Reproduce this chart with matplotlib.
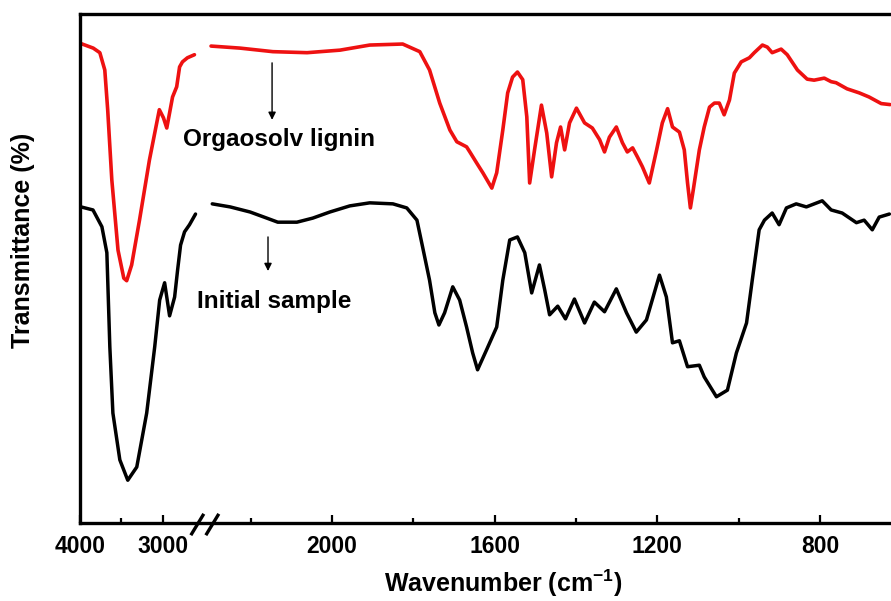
import numpy as np
import matplotlib
matplotlib.use('Agg')
import matplotlib.pyplot as plt
from matplotlib.ticker import FixedLocator

plt.rcParams['font.family'] = ['Liberation Sans', 'DejaVu Sans']
plt.rcParams['font.weight'] = 'bold'
plt.rcParams['mathtext.fontset'] = 'custom'
plt.rcParams['mathtext.rm'] = 'Liberation Sans'
plt.rcParams['mathtext.bf'] = 'Liberation Sans:bold'

# axis break (cm-1)
break_hi = 2550
break_lo = 2300

# Orgaosolv lignin (red) - high wavenumber part
lig_wn_a = [3990, 3840, 3760, 3700, 3665, 3615, 3540, 3470, 3435, 3375, 3280,
            3160, 3040, 2990, 2950, 2880, 2830, 2795, 2760, 2700, 2615]
lig_t_a = [94.2, 93.3, 92.4, 89.0, 81.2, 67.4, 53.6, 48.1, 47.6, 50.7, 59.5,
           71.3, 81.2, 79.6, 77.6, 83.7, 85.7, 89.6, 90.6, 91.4, 92.0]

# Orgaosolv lignin (red) - 2300..626
lig_wn_b = [2297, 2226, 2145, 2061, 1980, 1907, 1826, 1784, 1760, 1735, 1710,
            1693, 1669, 1661, 1644, 1629, 1607, 1595, 1580, 1568, 1556, 1544,
            1531, 1521, 1514, 1502, 1485, 1472, 1460, 1448, 1438, 1428, 1416,
            1399, 1379, 1360, 1342, 1330, 1318, 1301, 1286, 1274, 1261, 1249,
            1237, 1220, 1202, 1188, 1175, 1163, 1146, 1134, 1126, 1119, 1112,
            1097, 1085, 1072, 1060, 1048, 1036, 1023, 1011, 994, 974, 962,
            942, 930, 918, 896, 881, 856, 832, 815, 790, 773, 761, 734, 704,
            680, 650, 628]
lig_t_b = [93.7, 93.3, 92.6, 92.4, 92.9, 93.9, 94.1, 92.6, 89.0, 82.5, 77.2,
           74.9, 73.9, 72.9, 70.7, 68.8, 65.8, 68.8, 77.2, 84.5, 87.6, 88.6,
           87.1, 79.8, 66.8, 73.3, 82.1, 76.6, 68.0, 74.7, 77.8, 73.3, 78.6,
           81.5, 78.6, 77.6, 75.3, 72.9, 75.8, 77.8, 74.7, 72.9, 73.7, 71.9,
           70.0, 66.8, 73.3, 78.6, 81.4, 77.8, 76.8, 73.3, 66.8, 61.9, 65.4,
           73.3, 77.8, 81.7, 82.5, 82.5, 80.2, 83.1, 88.4, 90.6, 91.4, 92.4,
           93.9, 93.5, 92.4, 93.1, 92.0, 89.0, 87.2, 87.0, 87.4, 86.7, 86.5,
           85.3, 84.5, 83.7, 82.4, 82.2]

# Initial sample (black) - high wavenumber part
ini_wn_a = [3988, 3843, 3735, 3675, 3639, 3602, 3518, 3422, 3313, 3193, 3096,
            3036, 2976, 2916, 2855, 2819, 2783, 2735, 2675, 2602]
ini_t_a = [62.1, 61.5, 58.2, 53.1, 34.6, 21.6, 12.4, 8.4, 11.0, 21.6, 34.6,
           43.8, 47.2, 40.7, 44.4, 49.7, 54.6, 57.2, 58.6, 60.7]

# Initial sample (black) - 2300..626
ini_wn_b = [2294, 2250, 2201, 2160, 2133, 2086, 2047, 2005, 1956, 1907, 1850,
            1816, 1791, 1777, 1760, 1747, 1737, 1723, 1703, 1686, 1669, 1654,
            1642, 1620, 1595, 1580, 1563, 1544, 1526, 1509, 1490, 1477, 1465,
            1445, 1426, 1404, 1379, 1355, 1330, 1301, 1276, 1252, 1227, 1195,
            1178, 1163, 1146, 1126, 1097, 1085, 1055, 1028, 1006, 981, 967,
            950, 937, 918, 901, 883, 859, 834, 795, 773, 746, 711, 692, 672,
            655, 630]
ini_t_b = [62.7, 62.1, 61.1, 59.9, 59.1, 59.1, 59.9, 61.1, 62.3, 62.9, 62.7,
           61.9, 59.5, 54.2, 47.7, 41.3, 38.9, 41.3, 46.4, 43.8, 38.5, 33.4,
           30.1, 34.0, 38.5, 47.7, 55.6, 56.2, 53.1, 45.2, 50.7, 45.8, 40.9,
           42.6, 40.1, 44.0, 39.3, 43.4, 41.5, 46.0, 41.3, 37.5, 39.9, 48.7,
           44.4, 35.4, 35.8, 30.7, 31.0, 28.7, 24.8, 26.1, 33.4, 39.3, 47.7,
           57.6, 59.5, 60.9, 58.6, 61.9, 62.7, 62.1, 63.3, 61.5, 60.9, 59.0,
           59.5, 57.6, 60.1, 60.7]

major_ticks = [4000, 3000, 2000, 1600, 1200, 800]
minor_ticks = [3500, 2200, 1800, 1400, 1000]

# piecewise linear scale: 4000-2550 compressed, 2300-626 stretched
scale_wn = [0, break_lo, break_hi, 4000, 5000]
scale_pos = [-1067.25, -130, -120, 0, 82.8]


def fwd(x):
    return np.interp(np.asarray(x, dtype=float), scale_wn, scale_pos)


def inv(p):
    return np.interp(np.asarray(p, dtype=float), scale_pos, scale_wn)


fig = plt.figure(figsize=(8.91, 6.01), dpi=100)
ax = fig.add_axes([80 / 891, 1 - 523 / 601, 811 / 891, 509 / 601])
ax.set_xscale('function', functions=(fwd, inv))

red = '#ee1111'
line_kw = dict(solid_joinstyle='round', solid_capstyle='round')
ax.plot(lig_wn_a, lig_t_a, color=red, lw=2.6, **line_kw)
ax.plot(lig_wn_b, lig_t_b, color=red, lw=2.6, **line_kw)
ax.plot(ini_wn_a, ini_t_a, color='black', lw=2.5, **line_kw)
ax.plot(ini_wn_b, ini_t_b, color='black', lw=2.5, **line_kw)

ax.set_xlim(4000, 626)
ax.set_ylim(0, 100)

ax.xaxis.set_major_locator(FixedLocator(major_ticks))
ax.xaxis.set_minor_locator(FixedLocator(minor_ticks))
ax.set_yticks([])
ax.tick_params(axis='x', which='major', direction='in', length=6, width=1.6,
               labelsize=16.5, pad=8.5)
ax.tick_params(axis='x', which='minor', direction='in', length=3.5, width=1.6)
for lab in ax.get_xticklabels():
    lab.set_fontweight('bold')

for side in ['left', 'top', 'bottom']:
    ax.spines[side].set_linewidth(2.4)
ax.spines['right'].set_visible(False)

# break marks on the bottom axis
mid = ax.transAxes.inverted().transform(
    ax.transData.transform(((break_hi + break_lo) / 2, 0)))[0]
for dx in (-7.5 / 811, 7.5 / 811):
    ax.plot([mid + dx - 0.008, mid + dx + 0.008], [-0.024, 0.018],
            transform=ax.transAxes, color='black', lw=2.4, clip_on=False,
            solid_capstyle='butt')

# labels and arrows
ax.text(0.127, 0.741, 'Orgaosolv lignin', transform=ax.transAxes,
        fontsize=17.5, fontweight='bold', va='baseline')
ax.text(0.144, 0.422, 'Initial sample', transform=ax.transAxes,
        fontsize=17.5, fontweight='bold', va='baseline')
arrow = dict(arrowstyle='-|>', color='black', lw=1, mutation_scale=11,
             shrinkA=0, shrinkB=0)
ax.annotate('', xy=(2147, 79.2), xytext=(2147, 90.4), arrowprops=arrow)
ax.annotate('', xy=(2157, 49.5), xytext=(2157, 56.2), arrowprops=arrow)

fig.text(503 / 891, 1 - 583 / 601, r'Wavenumber (cm$^{\mathbf{-1}}$)',
         ha='center', va='center', fontsize=18, fontweight='bold')
fig.text(23 / 891, 1 - 240 / 601, 'Transmittance (%)', rotation=90,
         ha='center', va='center', fontsize=18, fontweight='bold')

fig.savefig('out.png', dpi=100)
